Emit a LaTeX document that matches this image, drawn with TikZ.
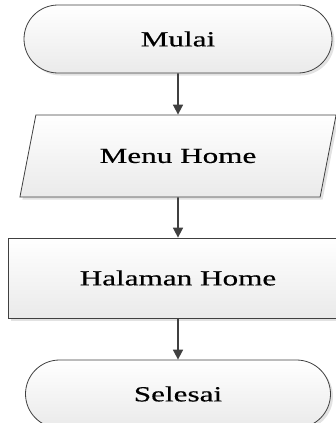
\documentclass[tikz,border=0pt]{standalone}
\usepackage{fontspec}
\newfontfamily\flowfont[FakeStretch=1.45, FakeBold=0.5]{Liberation Serif}
\usepackage{tikz}
\usetikzlibrary{arrows.meta,shapes.geometric,shapes.misc,shadows}
\definecolor{edge}{RGB}{64, 64, 64}
\definecolor{shade}{RGB}{234, 234, 234}

\begin{document}
\begin{tikzpicture}[x=1pt, y=-1pt, >={Triangle[width=10pt, length=10pt]},
  box/.style={draw=edge, line width=0.8pt, top color=white, bottom color=shade,
    drop shadow={shadow xshift=2.5pt, shadow yshift=-2.5pt, opacity=0.25, fill=black!45},
    font=\flowfont\fontsize{21.5}{25}\selectfont, inner sep=0pt},
  terminal/.style={box, rounded rectangle, minimum height=68pt},
  iobox/.style={box, trapezium, trapezium left angle=58.4, trapezium right angle=121.6,
    trapezium stretches=true, minimum width=317pt, minimum height=82pt},
  process/.style={box, rectangle, minimum width=340pt, minimum height=80pt},
  flow/.style={->, line width=1.7pt, edge}]
  \useasboundingbox (0,0) rectangle (335,423);

  % Flow steps
  \node[terminal, minimum width=308pt] (mulai) at (178,39) {Mulai};
  \node[iobox] (menu) at (178,156) {Menu Home};
  \node[process] (halaman) at (178,278) {Halaman Home};
  \node[terminal, minimum width=305pt] (selesai) at (178,394) {Selesai};

  % Connectors
  \draw[flow] (mulai) -- (menu);
  \draw[flow] (menu) -- (halaman);
  \draw[flow] (halaman) -- (selesai);
\end{tikzpicture}
\end{document}
